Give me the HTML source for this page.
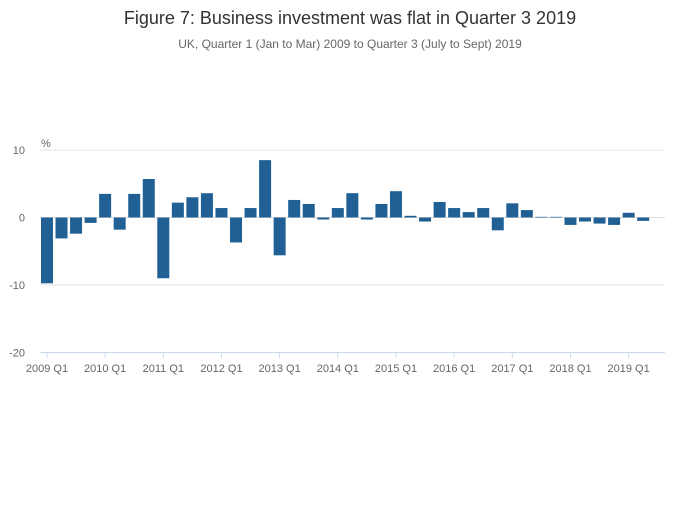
<!DOCTYPE html>
<html><head><meta charset="utf-8"><style>
body{margin:0;background:#fff;font-family:"Liberation Sans",sans-serif;}
</style></head><body>
<svg width="700" height="502" xmlns="http://www.w3.org/2000/svg" id="chart" font-family="Liberation Sans, sans-serif">
<text x="350" y="24" text-anchor="middle" font-size="18" fill="#333">Figure 7: Business investment was flat in Quarter 3 2019</text>
<text x="350" y="48" text-anchor="middle" font-size="12" fill="#666">UK, Quarter 1 (Jan to Mar) 2009 to Quarter 3 (July to Sept) 2019</text>
<text x="41" y="147" font-size="11" fill="#666">%</text>
<g id="grid"></g><g id="bars"></g><g id="xaxis"></g>
</svg>
<script>
const categories=[];for(let y=2009;y<=2019;y++)for(let q=1;q<=4;q++){if(y===2019&&q>3)break;categories.push(y+" Q"+q);}
const values=[-9.75,-3.1,-2.4,-0.8,3.5,-1.8,3.5,5.7,-9.0,2.2,3.0,3.6,1.4,-3.7,1.4,8.5,-5.6,2.6,2.0,-0.3,1.4,3.6,-0.3,2.0,3.9,0.25,-0.6,2.3,1.4,0.8,1.4,-1.9,2.1,1.1,0.1,0.1,-1.1,-0.6,-0.9,-1.1,0.7,-0.5,0.0];
const yTicks=[10,0,-10,-20];
const NS="http://www.w3.org/2000/svg";
const x0=39.7,x1=665,y=v=>217.5-v*6.75;
const bw=(x1-x0)/categories.length;
const xc=i=>x0+bw*(i+0.5);
function mk(t,a,p){const e=document.createElementNS(NS,t);for(const k in a)e.setAttribute(k,a[k]);p.appendChild(e);return e;}
const grid=document.getElementById('grid'),bars=document.getElementById('bars'),xa=document.getElementById('xaxis');
yTicks.forEach(t=>{
 const l=mk('line',{x1:x0,x2:x1,y1:y(t),y2:y(t),stroke:t===-20?'#ccd6eb':(t===0?'#ddd':'#e6e6e6'),'stroke-width':1},grid);
 
 
 const tx=mk('text',{x:25,y:y(t)+4,'text-anchor':'end','font-size':11,fill:'#666'},grid);tx.textContent=t;
 
 
});
values.forEach((v,i)=>{
 const r=mk('rect',{x:xc(i)-6,y:Math.min(y(v),y(0)),width:12,height:Math.abs(y(v)-y(0)),fill:'#206095'},bars);
 
 
});
categories.forEach((c,i)=>{if(i%4)return;
 const tk=mk('line',{x1:xc(i),x2:xc(i),y1:352,y2:358,stroke:'#ccd6eb'},xa);
 
 
 const tx=mk('text',{x:xc(i),y:372,'text-anchor':'middle','font-size':11,fill:'#666'},xa);tx.textContent=c;
 
 
});
</script>
</body></html>
